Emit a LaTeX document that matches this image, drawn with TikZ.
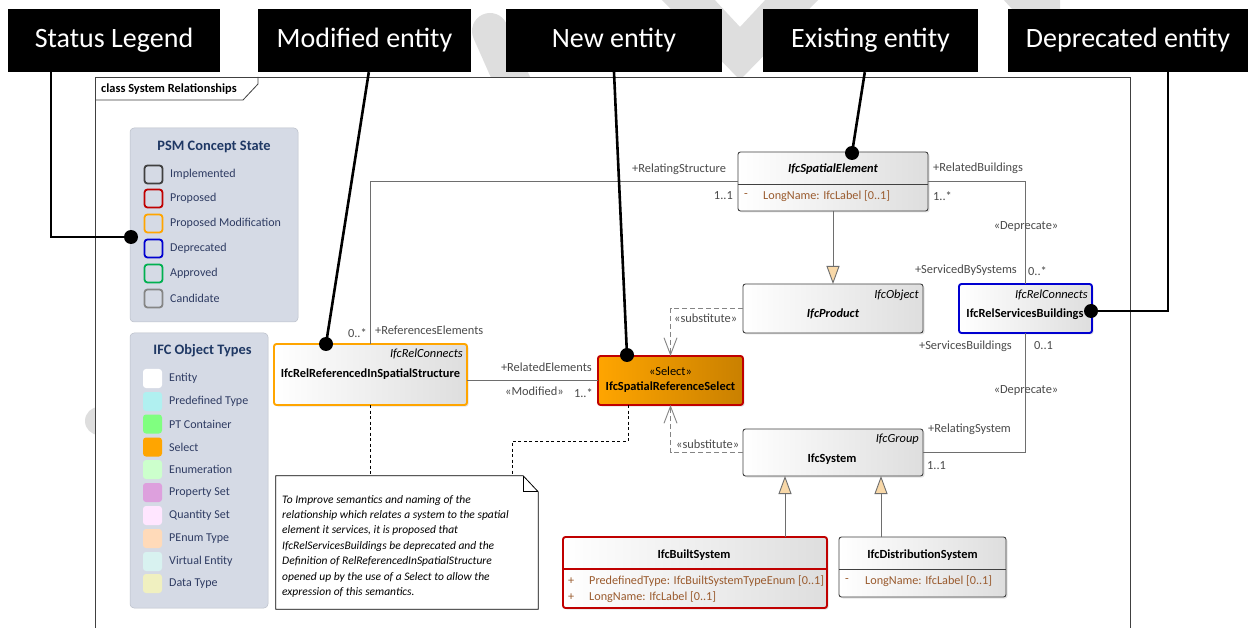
\documentclass[tikz,border=0pt]{standalone}
\usepackage{fontspec}
\setmainfont{Carlito}
\usetikzlibrary{arrows.meta,shadows,calc}
\definecolor{lgbg}{HTML}{D5DAE5}
\definecolor{lgtxt}{HTML}{2E3B62}
\definecolor{lgtitlec}{HTML}{1F3864}
\definecolor{conn}{HTML}{6E6E6E}
\definecolor{lbl}{HTML}{4A4A4A}
\definecolor{attrc}{HTML}{9A5B2E}
\definecolor{pred}{HTML}{C00000}
\definecolor{porange}{HTML}{FFA500}
\definecolor{pblue}{HTML}{0000D0}
\definecolor{pgreen}{HTML}{00B050}
\definecolor{pgray}{HTML}{858585}
\definecolor{pdark}{HTML}{404040}
\definecolor{gentan}{HTML}{F8D8A8}
\definecolor{wm}{HTML}{DEDEDE}
\definecolor{seldark}{HTML}{C98000}
\tikzset{
 cls/.style={rectangle, rounded corners=2.5pt, draw=pdark, line width=0.9pt, left color=white, right color=black!13,
   drop shadow={opacity=0.22, shadow xshift=1.5pt, shadow yshift=-1.5pt}, inner sep=0pt, outer sep=0pt},
 cname/.style={font=\fontsize{12.4}{14}\selectfont\bfseries, inner sep=0pt},
 cnamei/.style={font=\fontsize{12.4}{14}\selectfont\bfseries\itshape, inner sep=0pt},
 stereo/.style={font=\fontsize{12.4}{14}\selectfont\itshape, inner sep=0pt},
 attr/.style={font=\fontsize{12.2}{14}\selectfont, text=attrc, inner sep=0pt, anchor=west},
 lab/.style={font=\fontsize{12.4}{14}\selectfont, text=lbl, inner sep=0pt},
 assoc/.style={draw=conn, line width=0.9pt},
 gen/.style={draw=conn, line width=0.9pt, -{Triangle[length=18pt,width=13pt,fill=gentan]}},
 subst/.style={draw=conn!85, line width=0.9pt, dash pattern=on 5pt off 3pt, -{Straight Barb[length=17pt,width=13pt]}},
 noteln/.style={draw=black, line width=0.8pt, dash pattern=on 3pt off 2.5pt},
 callout/.style={draw=black, line width=2.6pt},
 dot/.style={circle, fill=black, minimum size=14pt, inner sep=0pt},
 cbox/.style={rectangle, fill=black, text=white, font=\fontsize{28}{33}\selectfont, inner sep=0pt, minimum height=63pt},
 lgbox/.style={rectangle, rounded corners=4pt, fill=lgbg, draw=lgbg!88!black, line width=0.5pt, inner sep=0pt},
 sq/.style={rectangle, rounded corners=3pt, line width=1.8pt, fill=lgbg, minimum size=18pt, inner sep=0pt},
 fsq/.style={rectangle, rounded corners=3pt, minimum size=19pt, inner sep=0pt},
 lgt/.style={font=\fontsize{12}{14}\selectfont, text=lgtxt, anchor=west, inner sep=0pt},
 lgtitle/.style={font=\fontsize{14.4}{16}\selectfont\bfseries, text=lgtitlec, inner sep=0pt},
 frameln/.style={draw=pdark, line width=0.8pt},
}
\begin{document}
\begin{tikzpicture}[x=1pt,y=-1pt]
\useasboundingbox (0,0) rectangle (1248,628);
% watermark fragments
\fill[wm] (660,-2) -- (713,-2) -- (740,27) -- (767,-2) -- (820,-2) -- (740,80) -- cycle;
\draw[wm, line width=36pt, line cap=round] (490,31) -- (525,110);
\fill[wm] (1002,-2) -- (1060,-2) -- (1060,20) -- (1022,20) -- cycle;
\draw[wm, line width=28pt, line cap=round] (99,421) -- (150,421);
% frame
\fill[white] (95,77) rectangle (1130,640);
\draw[frameln] (95,640) -- (95,77) -- (1130,77) -- (1130,640);
\draw[frameln] (95,100) -- (243,100) -- (258,84) -- (258,77);
\node[font=\fontsize{12.4}{14}\selectfont\bfseries, anchor=west, inner sep=0pt] (ftitle) at (101,89) {class System Relationships};

% PSM legend
\node[lgbox, minimum width=168pt, minimum height=194pt] (psm) at (214,225) {};
\node[lgtitle] (psmt) at (214,147) {PSM Concept State};
\node[sq, draw=pdark] (s1) at (153.5,174.5) {};
\node[sq, draw=pred] (s2) at (153.5,198.5) {};
\node[sq, draw=porange] (s3) at (153.5,223.5) {};
\node[sq, draw=pblue] (s4) at (153.5,248.5) {};
\node[sq, draw=pgreen] (s5) at (153.5,273.5) {};
\node[sq, draw=pgray] (s6) at (153.5,298.5) {};
\node[lgt] (t1) at (170,174) {Implemented};
\node[lgt] (t2) at (170,198) {Proposed};
\node[lgt] (t3) at (170,223) {Proposed Modification};
\node[lgt] (t4) at (170,248) {Deprecated};
\node[lgt] (t5) at (170,273) {Approved};
\node[lgt] (t6) at (170,298) {Candidate};

% IFC legend
\node[lgbox, minimum width=138pt, minimum height=275pt] (ifc) at (199,470.5) {};
\node[lgtitle] (ifct) at (202.5,351) {IFC Object Types};
\node[fsq, fill=white] (f1) at (152.5,378.5) {};
\node[fsq, fill={rgb,255:red,176;green,240;blue,240}] (f2) at (152.5,401.5) {};
\node[fsq, fill={rgb,255:red,128;green,255;blue,128}] (f3) at (152.5,424) {};
\node[fsq, fill=porange] (f4) at (152.5,447) {};
\node[fsq, fill={rgb,255:red,204;green,255;blue,204}] (f5) at (152.5,469.5) {};
\node[fsq, fill={rgb,255:red,221;green,160;blue,221}] (f6) at (152.5,492.5) {};
\node[fsq, fill={rgb,255:red,255;green,230;blue,255}] (f7) at (152.5,515.5) {};
\node[fsq, fill={rgb,255:red,255;green,218;blue,185}] (f8) at (152.5,538.5) {};
\node[fsq, fill={rgb,255:red,216;green,242;blue,240}] (f9) at (152.5,561.5) {};
\node[fsq, fill={rgb,255:red,240;green,240;blue,192}] (f10) at (152.5,583.5) {};
\node[lgt] (u1) at (169,378) {Entity};
\node[lgt] (u2) at (169,401) {Predefined Type};
\node[lgt] (u3) at (169,424) {PT Container};
\node[lgt] (u4) at (169,447) {Select};
\node[lgt] (u5) at (169,469.5) {Enumeration};
\node[lgt] (u6) at (169,492.5) {Property Set};
\node[lgt] (u7) at (169,515.5) {Quantity Set};
\node[lgt] (u8) at (169,538.5) {PEnum Type};
\node[lgt] (u9) at (169,561.5) {Virtual Entity};
\node[lgt] (u10) at (169,583.5) {Data Type};

% classes
\node[cls, minimum width=190pt, minimum height=59pt] (spatial) at (833,181.5) {};
\draw[draw=pdark, line width=0.9pt] (spatial.west |- 0,184) -- (spatial.east |- 0,184);
\node[cnamei] (spatialn) at (833,169) {IfcSpatialElement};
\node[attr, text=attrc] (spatialm) at (744,196) {-};
\node[attr] (spatiala) at (763,196) {LongName: IfcLabel [0..1]};

\node[cls, minimum width=180pt, minimum height=49pt] (product) at (833,308.5) {};
\node[stereo, anchor=east] (products) at (919,295) {IfcObject};
\node[cnamei] (productn) at (833,314) {IfcProduct};

\node[cls, draw=pblue, line width=1.9pt, minimum width=133pt, minimum height=49pt] (services) at (1025.5,308.5) {};
\node[stereo, anchor=east] (servicess) at (1088,295) {IfcRelConnects};
\node[cname] (servicesn) at (1025,314) {IfcRelServicesBuildings};

\node[cls, draw=porange, line width=1.9pt, minimum width=193pt, minimum height=61pt] (relref) at (370.5,374.5) {};
\node[stereo, anchor=east] (relrefs) at (463,354) {IfcRelConnects};
\node[cname] (relrefn) at (370.5,374) {IfcRelReferencedInSpatialStructure};

\node[cls, draw=pred, line width=1.9pt, left color=porange, right color=seldark, minimum width=145pt, minimum height=49pt] (select) at (670.5,380.5) {};
\node[font=\fontsize{12.4}{14}\selectfont, inner sep=0pt] (selects) at (670.5,371) {«Select»};
\node[cname] (selectn) at (670.5,387) {IfcSpatialReferenceSelect};

\node[cls, minimum width=180pt, minimum height=47pt] (system) at (833,452.5) {};
\node[stereo, anchor=east] (systems) at (919,439) {IfcGroup};
\node[cname] (systemn) at (832,459) {IfcSystem};

\node[cls, draw=pred, line width=1.9pt, minimum width=264pt, minimum height=71pt] (builtsys) at (695,572.5) {};
\draw[draw=pred, line width=1.9pt] (builtsys.west |- 0,569) -- (builtsys.east |- 0,569);
\node[cname] (builtsysn) at (694,555) {IfcBuiltSystem};
\node[attr] (bm1) at (568,581) {+};
\node[attr] (bm2) at (568,597) {+};
\node[attr] (ba1) at (589,581) {PredefinedType: IfcBuiltSystemTypeEnum [0..1]};
\node[attr] (ba2) at (589,597) {LongName: IfcLabel [0..1]};

\node[cls, minimum width=167pt, minimum height=60pt] (distsys) at (922.5,567) {};
\draw[draw=pdark, line width=0.9pt] (distsys.west |- 0,569) -- (distsys.east |- 0,569);
\node[cname] (distsysn) at (922.5,555) {IfcDistributionSystem};
\node[attr] (dm) at (845,581) {-};
\node[attr] (da) at (865,581) {LongName: IfcLabel [0..1]};

% connectors
\draw[assoc] (spatial.west) -| (relref.north);
\draw[assoc] (spatial.east) -| (services.north);
\draw[assoc] (relref.east |- select.west) -- (select.west);
\draw[assoc] (system.east) -| (services.south);
\draw[gen] (spatial.south) -- (product.north);
\draw[gen] ([xshift=-42pt]builtsys.north east) -- ([xshift=-42pt]builtsys.north east |- system.south);
\draw[gen] ([xshift=42pt]distsys.north west) -- ([xshift=42pt]distsys.north west |- system.south);
\draw[subst] (product.west) -| (select.north);
\draw[subst] (system.west) -| (select.south);

% connector labels
\node[lab, anchor=west] (l1) at (632,169) {+RelatingStructure};
\node[lab, anchor=east] (l2) at (733,196) {1..1};
\node[lab, anchor=west] (l3) at (375,330) {+ReferencesElements};
\node[lab, anchor=east] (l4) at (367,333) {0..*};
\node[lab, anchor=west] (l5) at (933,168) {+RelatedBuildings};
\node[lab, anchor=west] (l6) at (933,196) {1..*};
\node[lab] (l7) at (1026,227) {«Deprecate»};
\node[lab, anchor=east] (l8) at (1017,270) {+ServicedBySystems};
\node[lab, anchor=west] (l9) at (1028,271) {0..*};
\node[lab, anchor=west] (l10) at (674,318) {«substitute»};
\node[lab, anchor=east] (l11) at (592,367) {+RelatedElements};
\node[lab, anchor=west] (l12) at (505,391) {«Modified»};
\node[lab, anchor=east] (l13) at (593,393) {1..*};
\node[lab, anchor=east] (l14) at (1012,346) {+ServicesBuildings};
\node[lab, anchor=west] (l15) at (1034,346) {0..1};
\node[lab] (l16) at (1026,391) {«Deprecate»};
\node[lab, anchor=west] (l17) at (928,429) {+RelatingSystem};
\node[lab, anchor=west] (l18) at (927,466) {1..1};
\node[lab, anchor=west] (l19) at (676,444) {«substitute»};

% note
\node[inner sep=0pt, minimum width=262pt, minimum height=133pt] (note) at (407,542.5) {};
\draw[fill=white, draw=black, line width=0.8pt] (note.north west) -- ([xshift=-15pt]note.north east) -- ([yshift=-16pt]note.north east) -- (note.south east) -- (note.south west) -- cycle;
\draw[black, line width=0.8pt] ([xshift=-15pt]note.north east) -- ([xshift=-15pt,yshift=-16pt]note.north east) -- ([yshift=-16pt]note.north east);
\node[anchor=north west, inner sep=0pt, align=left, font=\fontsize{11.5}{15.4}\selectfont\itshape] (notet) at (282,495)
{To Improve semantics and naming of the\\
relationship which relates a system to the spatial\\
element it services, it is proposed that\\
IfcRelServicesBuildings be deprecated and the\\
Definition of RelReferencedInSpatialStructure\\
opened up by the use of a Select to allow the\\
expression of this semantics.};
\coordinate (nk) at (512,441);
\draw[noteln] (relref.south) -- (relref.south |- note.north);
\draw[noteln] ([xshift=-42.5pt]select.south) |- (nk) -- (nk |- note.north);

% callouts
\node[cbox, minimum width=212pt] (sl) at (114,40.5) {Status Legend};
\node[cbox, minimum width=213pt] (me) at (364.5,40.5) {Modified entity};
\node[cbox, minimum width=216pt] (ne) at (614,40.5) {New entity};
\node[cbox, minimum width=215pt] (ee) at (870.5,40.5) {Existing entity};
\node[cbox, minimum width=240pt] (de) at (1128,40.5) {Deprecated entity};
\node[dot] (dsl) at (131,237) {};
\node[dot] (dme) at (326,344) {};
\node[dot] (dne) at (627,355) {};
\node[dot] (dee) at (852,153) {};
\node[dot] (dde) at (1091,311) {};
\draw[callout] ([xshift=43pt]sl.south west) |- (dsl.center);
\draw[callout] ([xshift=111pt]me.south west) -- (dme.center);
\draw[callout] (ne.south) -- (dne.center);
\draw[callout] ([xshift=102pt]ee.south west) -- (dee.center);
\draw[callout] ([xshift=160pt]de.south west) |- (dde.center);
\end{tikzpicture}
\end{document}
